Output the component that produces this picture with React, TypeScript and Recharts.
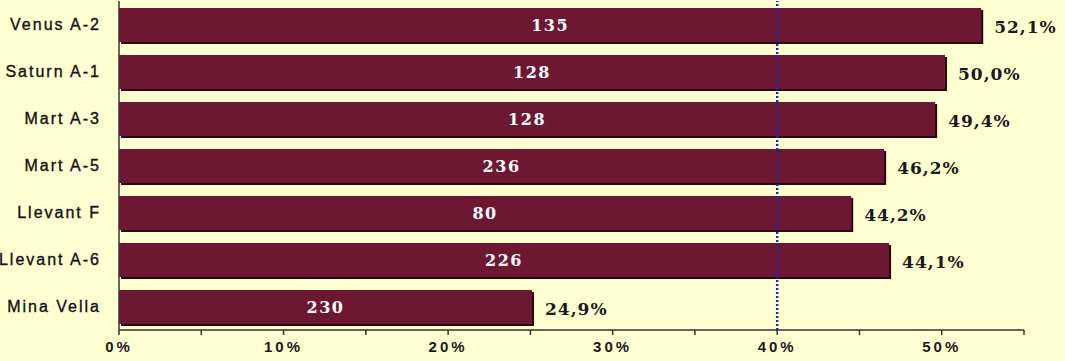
import React from 'react';
import { BarChart, Bar, XAxis, YAxis, ReferenceLine, LabelList } from 'recharts';

const categories = ['Venus A-2', 'Saturn A-1', 'Mart A-3', 'Mart A-5', 'Llevant F', 'Llevant A-6', 'Mina Vella'];
const barValues = [52.4, 50.2, 49.6, 46.5, 44.5, 46.8, 25.1];
const counts = [135, 128, 128, 236, 80, 226, 230];
const pctLabels = ['52,1%', '50,0%', '49,4%', '46,2%', '44,2%', '44,1%', '24,9%'];
const xTicks = [0, 5, 10, 15, 20, 25, 30, 35, 40, 45, 50, 55];

const data = categories.map((name, i) => ({
  name,
  value: barValues[i],
  count: counts[i],
  pct: pctLabels[i],
}));

const BG = '#FFFFD2';
const BAR = '#6E1733';
const SHADOW = '#2A0810';
const SERIF = "'DejaVu Serif', 'Liberation Serif', serif";
const SANS = "'Liberation Sans', Arial, sans-serif";

const ShadowBar = (props: any) => {
  const { x, y, width, height } = props;
  return (
    <g>
      <rect x={x + 2} y={y + 2} width={width} height={height} fill={SHADOW} />
      <rect x={x} y={y} width={width} height={height} fill={BAR} />
    </g>
  );
};

const CountLabel = (props: any) => {
  const { x, y, width, height, value } = props;
  return (
    <text
      x={x + width / 2}
      y={y + height / 2}
      dy="0.35em"
      textAnchor="middle"
      fill="#ffffff"
      fontFamily={SERIF}
      fontWeight="bold"
      fontSize={16}
      letterSpacing={1.5}
    >
      {value}
    </text>
  );
};

const PctLabel = (props: any) => {
  const { x, y, width, height, value } = props;
  return (
    <text
      x={x + width + 13}
      y={y + height / 2 + 2}
      dy="0.35em"
      textAnchor="start"
      fill="#1a1a1a"
      fontFamily={SERIF}
      fontWeight="bold"
      fontSize={17}
      letterSpacing={1}
    >
      {value}
    </text>
  );
};

export default function App() {
  return (
    <div style={{ position: 'absolute', left: 0, top: 0, width: 1065, height: 361, background: BG }}>
      <BarChart
        width={1065}
        height={361}
        data={data}
        layout="vertical"
        margin={{ top: 1, right: 41, bottom: 0, left: 0 }}
        barSize={34}
      >
        <XAxis
          type="number"
          domain={[0, 55]}
          ticks={xTicks}
          interval={0}
          allowDataOverflow
          tickFormatter={(v: number) => (v % 10 === 0 ? `${v}%` : '')}
          height={31}
          tickSize={5}
          tickMargin={6}
          stroke="#333"
          strokeWidth={1.5}
          tick={{ fill: '#1a1a1a', fontSize: 15, fontWeight: 'bold', fontFamily: SANS, letterSpacing: 3 }}
        />
        <YAxis
          type="category"
          dataKey="name"
          width={119}
          tickSize={0}
          tickMargin={18}
          stroke="#333"
          strokeWidth={1.5}
          tick={{ fill: '#111', fontSize: 16, fontFamily: SANS, letterSpacing: 2, stroke: '#111', strokeWidth: 0.35 }}
        />
        <Bar dataKey="value" isAnimationActive={false} shape={<ShadowBar />}>
          <LabelList dataKey="count" content={<CountLabel />} />
          <LabelList dataKey="pct" content={<PctLabel />} />
        </Bar>
        <ReferenceLine x={40} stroke="#1F2A9E" strokeWidth={2.5} strokeDasharray="2 2" ifOverflow="extendDomain" />
      </BarChart>
    </div>
  );
}
